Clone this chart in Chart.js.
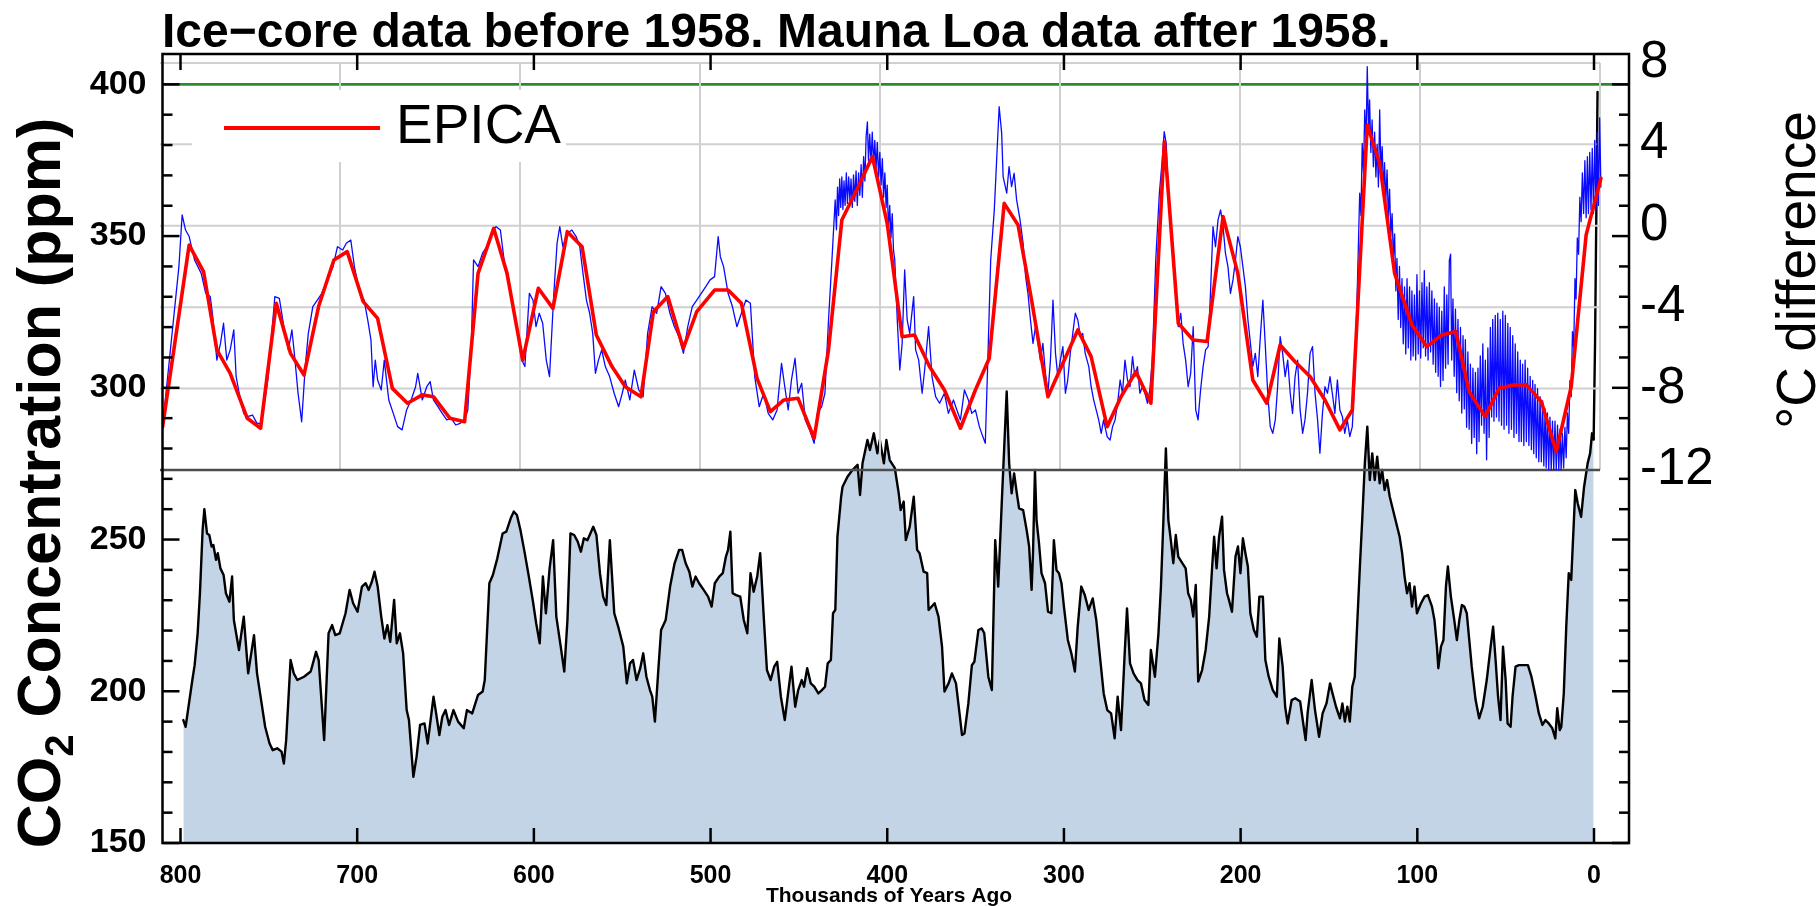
<!DOCTYPE html>
<html>
<head>
<meta charset="utf-8">
<title>Ice-core CO2 and EPICA temperature</title>
<script src="https://cdn.jsdelivr.net/npm/chart.js@4.4.1/dist/chart.umd.min.js"></script>
<style>
  html, body { margin: 0; padding: 0; background: #ffffff; }
  #wrap { width: 1820px; height: 906px; position: relative; }
  canvas { display: block; }
</style>
</head>
<body>
<div id="wrap"><canvas id="chart" width="1820" height="906"></canvas></div>
<script>
// ---------------------------------------------------------------------------
// Data: [thousands of years ago, value]
// ---------------------------------------------------------------------------

// Ice-core CO2 concentration (ppm)
const iceCoreCO2 = [
  [798.4,190.5],[797.1,188.3],[793.3,203.7],[792.0,208.6],[790.3,219.0],[789.0,232.3],[787.5,253.0],[786.5,260.0],
  [785.0,252.0],[783.7,251.5],[782.4,247.7],[781.4,248.2],[779.9,243.3],[778.9,245.5],[777.4,240.5],[775.6,238.3],
  [774.3,232.3],[772.3,229.5],[770.8,237.8],[769.8,223.5],[766.9,213.6],[764.2,224.6],[761.7,205.9],[758.4,218.5],
  [756.7,205.9],[754.1,196.0],[752.1,188.3],[749.6,182.8],[747.8,180.6],[745.3,181.2],[742.8,180.1],[741.5,176.2],
  [740.2,183.9],[737.7,210.3],[735.9,205.9],[733.9,203.7],[730.1,204.8],[726.3,206.5],[723.3,213.0],[721.8,210.3],
  [718.7,183.9],[716.2,219.1],[714.2,221.8],[712.4,218.5],[709.9,219.1],[706.6,225.7],[704.3,233.4],[702.3,229.0],
  [699.8,226.2],[697.3,234.5],[695.2,235.6],[693.5,233.4],[691.7,236.1],[690.2,239.4],[688.4,234.5],[686.4,224.6],
  [684.6,217.4],[682.9,221.8],[681.3,216.3],[679.1,230.1],[677.6,215.8],[675.8,219.1],[674.0,212.5],[672.0,193.8],
  [670.7,190.5],[668.2,171.8],[666.4,178.4],[664.4,188.9],[661.9,189.4],[660.1,182.8],[656.8,198.2],[655.6,193.8],
  [653.5,185.6],[651.8,191.6],[650.0,193.8],[648.0,188.9],[645.5,193.8],[642.9,190.0],[639.7,187.8],[637.9,193.8],
  [634.9,192.7],[631.6,198.8],[629.0,199.9],[627.8,203.7],[625.2,235.6],[623.2,238.3],[620.7,243.8],[617.7,252.0],
  [615.6,252.6],[613.1,257.0],[611.4,259.2],[609.6,258.1],[607.6,253.1],[605.5,246.6],[603.0,238.3],[600.5,229.5],
  [598.7,222.4],[596.7,215.8],[594.9,237.8],[593.2,225.7],[591.1,240.5],[589.1,249.8],[587.3,224.6],[584.8,214.7],
  [582.8,206.5],[581.0,223.5],[579.3,252.0],[577.2,251.5],[575.2,249.3],[573.4,246.0],[571.7,250.4],[569.7,249.8],
  [567.6,252.6],[566.4,254.2],[564.6,251.5],[562.6,238.9],[560.8,231.2],[559.0,228.4],[557.0,249.8],[554.5,225.7],
  [552.0,220.7],[549.4,214.7],[547.4,202.6],[545.6,209.2],[543.9,210.3],[541.9,203.7],[539.8,207.6],[538.1,212.5],
  [536.3,204.8],[534.3,200.4],[533.0,198.2],[531.5,190.0],[529.7,205.9],[528.0,220.2],[525.4,223.5],[522.9,234.5],
  [520.4,242.1],[517.8,246.6],[516.1,246.6],[514.1,242.2],[512.0,239.4],[510.3,234.5],[508.5,237.8],[506.5,235.6],
  [503.9,233.4],[501.4,231.2],[499.4,227.9],[497.6,235.6],[495.1,237.8],[493.1,238.9],[491.3,244.4],[490.1,246.6],
  [488.8,252.6],[487.5,232.3],[485.5,231.7],[483.2,231.2],[481.2,223.5],[479.2,219.1],[477.4,238.9],[475.6,232.8],
  [473.6,237.8],[471.9,245.5],[469.8,223.5],[468.1,207.0],[466.0,203.7],[464.0,208.1],[462.3,209.7],[460.2,198.2],
  [458.0,190.5],[455.9,200.4],[454.2,208.1],[452.1,194.9],[450.4,200.4],[448.4,203.7],[447.1,201.5],[445.3,207.6],
  [443.3,202.6],[441.3,201.5],[439.0,199.3],[437.0,200.4],[435.2,201.5],[433.7,209.2],[431.9,210.3],[430.7,225.7],
  [429.4,226.8],[428.2,250.9],[426.1,264.1],[425.3,267.4],[422.5,270.7],[419.7,272.9],[416.8,274.6],[415.4,264.7],
  [414.0,275.1],[411.2,282.8],[409.8,279.5],[407.6,285.0],[405.6,278.4],[404.2,282.8],[401.9,275.1],[400.5,282.8],
  [398.6,276.2],[395.7,273.5],[393.5,265.2],[392.4,259.7],[390.7,262.5],[389.5,249.8],[387.3,254.2],[385.0,264.1],
  [383.1,246.6],[381.7,245.5],[379.4,239.4],[377.4,238.9],[376.6,226.8],[373.2,229.0],[371.0,224.6],[369.0,214.7],
  [367.6,199.9],[365.3,202.6],[363.4,205.9],[361.1,202.6],[359.1,192.7],[357.7,185.6],[356.3,186.1],[354.1,196.0],
  [352.1,208.6],[350.7,209.7],[348.4,220.2],[346.5,220.7],[345.1,219.1],[342.8,204.8],[340.8,200.4],[338.9,249.8],
  [337.2,234.5],[335.2,262.0],[332.4,298.8],[331.0,275.1],[329.6,265.2],[328.2,271.8],[326.8,265.8],[325.4,260.3],
  [323.1,259.7],[321.1,253.1],[319.7,247.7],[318.3,233.4],[317.5,245.5],[316.4,272.9],[315.5,256.4],[314.1,248.7],
  [312.7,238.9],[310.7,235.6],[309.0,226.2],[307.1,225.7],[305.7,249.8],[304.2,239.9],[302.8,238.9],[301.4,235.6],
  [300.0,227.9],[297.8,216.9],[295.8,212.5],[293.8,206.5],[292.2,221.3],[290.2,234.5],[288.2,231.7],[286.0,226.8],
  [283.7,230.6],[281.7,223.5],[279.8,212.5],[277.5,199.3],[275.5,193.8],[273.3,192.7],[271.3,184.5],[269.6,198.2],
  [267.7,187.2],[265.7,211.4],[264.3,227.3],[262.6,209.2],[260.6,205.9],[258.4,203.7],[256.4,202.6],[254.4,197.1],
  [252.2,195.5],[250.8,213.6],[248.5,204.8],[246.5,219.1],[245.1,234.5],[243.7,256.4],[242.3,280.0],[240.9,256.4],
  [239.5,249.8],[238.1,242.2],[236.7,251.5],[235.3,244.4],[233.0,242.2],[231.1,240.5],[229.7,232.3],[228.2,230.1],
  [226.8,224.6],[225.4,235.0],[224.0,203.2],[221.8,207.0],[219.8,213.6],[217.8,224.6],[216.1,241.1],[215.0,250.9],
  [213.6,240.5],[212.2,250.9],[210.5,257.5],[209.4,240.0],[207.7,232.3],[206.6,230.1],[204.9,226.2],[202.9,244.4],
  [201.5,247.7],[200.1,238.9],[198.7,250.4],[197.3,245.5],[195.9,241.1],[194.5,225.7],[192.5,220.2],[190.8,218.0],
  [189.4,231.2],[187.4,231.2],[186.0,210.3],[184.1,204.8],[181.8,200.4],[179.5,198.2],[178.1,217.4],[176.2,208.1],
  [174.8,194.9],[173.4,189.4],[171.1,197.1],[169.1,197.7],[166.3,196.6],[164.3,188.3],[163.2,183.9],[162.1,192.7],
  [159.8,203.7],[157.9,193.8],[155.6,185.0],[153.6,192.7],[151.4,196.0],[149.4,202.6],[148.0,199.3],[146.0,194.9],
  [143.8,191.1],[142.4,196.0],[141.0,190.0],[139.6,194.9],[138.2,190.0],[136.8,201.5],[135.4,204.8],[134.0,222.4],
  [132.5,241.1],[131.1,257.5],[129.7,275.1],[128.3,287.2],[126.9,269.6],[125.5,278.4],[124.1,269.6],[122.7,277.3],
  [121.3,268.5],[119.9,272.9],[118.5,266.3],[117.1,269.6],[115.6,264.1],[114.2,260.8],[112.8,257.5],[111.4,254.2],
  [110.0,250.9],[108.6,245.5],[107.2,237.8],[105.8,232.3],[104.4,235.6],[103.0,227.9],[101.6,234.5],[100.2,225.7],
  [97.9,229.0],[95.9,231.2],[94.0,231.7],[91.7,227.9],[90.3,223.5],[88.9,214.7],[88.1,207.6],[86.6,214.7],
  [85.2,216.9],[83.8,234.5],[82.7,241.1],[81.0,231.2],[79.1,223.5],[77.6,216.9],[76.2,223.5],[74.8,228.4],
  [73.4,227.9],[72.0,225.7],[70.6,216.9],[69.2,208.1],[67.0,197.1],[65.0,191.1],[63.0,194.9],[60.7,203.7],
  [58.5,214.7],[57.1,221.3],[55.7,210.3],[54.3,198.2],[52.9,190.5],[51.5,214.7],[50.0,203.7],[48.9,189.4],
  [47.2,188.3],[46.1,198.2],[44.4,208.1],[42.5,208.6],[39.6,208.6],[37.4,208.6],[35.4,204.8],[33.4,199.3],
  [31.2,192.7],[29.2,188.9],[27.5,190.5],[25.6,189.4],[23.6,187.8],[21.9,184.5],[20.8,194.4],[19.4,187.2],
  [18.5,188.3],[17.1,199.3],[15.7,221.3],[14.3,238.9],[12.9,236.7],[10.6,266.3],[9.2,261.9],[7.3,257.5],
  [5.6,267.4],[3.6,275.1],[2.2,278.4],[1.1,285.0],[0.2,283.0]
];

// Mauna Loa CO2 (ppm), 1958 onwards
const maunaLoaCO2 = [[0.2,283.0],[-0.6,315.0],[-2.0,397.5]];

// 400 ppm reference level
const level400 = [[810.2,400],[-19.8,400]];

// EPICA temperature difference (deg C), smoothed
const epicaSmooth = [
  [798.6,-9.9],[783.8,-0.95],[775.8,-2.25],[768.4,-6.10],[761.0,-7.25],[751.5,-9.46],[744.1,-9.95],[735.4,-3.81],
  [727.5,-6.27],[720.0,-7.33],[711.9,-3.97],[703.4,-1.68],[696.0,-1.27],[687.1,-3.73],[679.1,-4.55],[670.9,-7.99],
  [662.5,-8.72],[654.3,-8.31],[648.1,-8.40],[638.9,-9.46],[630.8,-9.63],[623.3,-2.34],[614.6,-0.13],[607.2,-2.34],
  [598.5,-6.60],[589.8,-3.07],[581.7,-4.06],[573.7,-0.29],[565.5,-1.03],[557.6,-5.37],[548.9,-6.92],[541.5,-7.91],
  [532.8,-8.40],[525.9,-4.22],[517.9,-3.48],[509.3,-6.02],[501.8,-4.22],[491.9,-3.16],[484.4,-3.16],[477.0,-3.81],
  [468.3,-7.50],[460.9,-9.13],[453.4,-8.56],[445.5,-8.48],[436.6,-10.44],[428.6,-6.10],[421.2,0.28],[412.5,1.84],
  [404.2,3.40],[396.0,0.12],[387.7,-5.45],[380.8,-5.37],[372.5,-6.92],[364.2,-8.07],[355.3,-9.95],[347.0,-8.07],
  [339.3,-6.51],[331.0,1.10],[323.3,0.04],[315.8,-3.65],[306.7,-8.40],[298.4,-6.76],[290.1,-5.12],[282.7,-6.43],
  [273.8,-9.87],[266.1,-8.40],[257.8,-7.17],[249.5,-8.72],[242.0,4.13],[234.3,-4.79],[226.0,-5.61],[218.3,-5.69],
  [209.4,0.45],[201.2,-2.34],[192.9,-7.58],[185.1,-8.72],[177.7,-5.86],[169.4,-6.68],[161.1,-7.41],[152.8,-8.56],
  [144.5,-10.03],[137.6,-9.05],[129.3,4.95],[122.4,3.07],[114.1,-2.34],[104.5,-4.87],[96.2,-5.94],[87.9,-5.37],
  [80.1,-5.20],[72.7,-8.15],[63.8,-9.38],[56.1,-7.99],[47.8,-7.82],[40.9,-7.82],[32.6,-8.64],[24.3,-11.10],
  [16.0,-7.91],[7.7,-0.45],[-0.5,2.33]
];

// Temperature difference (deg C), full resolution
const tempRecord = [
  [798.6,-9.9],[789.5,-2.01],[787.7,0.53],[785.8,-0.21],[783.8,-0.53],[780.8,-1.68],[777.1,-2.34],[774.6,-3.32],
  [772.1,-3.48],[770.9,-4.30],[768.4,-6.60],[766.4,-5.78],[764.7,-4.79],[762.9,-6.60],[761.0,-6.10],[759.0,-5.12],
  [757.7,-7.41],[756.0,-8.23],[753.5,-9.22],[751.5,-9.38],[748.6,-9.30],[746.1,-9.71],[743.6,-9.71],[739.9,-7.41],
  [736.2,-3.48],[733.7,-3.57],[731.2,-4.96],[728.7,-6.10],[726.7,-5.12],[725.0,-6.60],[723.3,-8.23],[721.3,-9.63],
  [719.3,-6.92],[717.6,-5.29],[715.1,-3.97],[712.6,-3.65],[710.1,-3.32],[706.9,-2.66],[703.9,-2.01],[701.4,-1.03],
  [698.5,-1.19],[696.5,-0.86],[694.0,-0.70],[692.0,-2.01],[689.0,-3.32],[686.6,-3.65],[684.6,-4.63],[682.8,-5.61],
  [681.6,-7.91],[680.4,-6.60],[679.1,-7.58],[677.1,-8.07],[675.4,-6.60],[672.9,-8.56],[670.4,-9.22],[668.0,-9.87],
  [665.5,-10.03],[663.0,-9.05],[660.5,-8.56],[658.0,-7.91],[656.8,-7.25],[654.3,-8.56],[651.8,-7.91],[649.9,-7.66],
  [648.1,-8.56],[645.6,-8.89],[643.2,-9.22],[640.7,-9.54],[638.2,-9.46],[635.7,-9.79],[633.2,-9.71],[630.8,-9.54],
  [629.0,-9.05],[627.0,-5.78],[625.8,-1.68],[623.3,-2.01],[620.8,-1.35],[618.4,-1.03],[615.9,-0.37],[613.4,-0.04],
  [610.9,-0.21],[608.4,-2.01],[606.0,-2.99],[603.5,-4.14],[601.0,-5.45],[599.0,-6.60],[597.3,-6.92],[594.8,-3.32],
  [592.8,-3.65],[591.1,-4.96],[589.3,-4.30],[587.4,-4.79],[585.4,-6.60],[583.6,-7.41],[581.2,-3.32],[579.4,-0.86],
  [577.9,-0.04],[576.2,-1.03],[573.7,-0.37],[571.2,-0.21],[568.8,-0.53],[566.8,-1.03],[565.0,-2.34],[563.1,-3.65],
  [561.3,-4.30],[559.6,-5.29],[558.1,-7.25],[556.4,-6.60],[554.6,-6.10],[552.6,-6.92],[550.2,-7.41],[547.7,-8.23],
  [545.2,-8.89],[543.2,-8.23],[541.5,-7.58],[539.0,-8.56],[536.5,-7.09],[534.0,-8.07],[531.6,-8.40],[529.1,-5.29],
  [526.6,-3.97],[524.1,-4.30],[521.6,-2.99],[519.2,-3.32],[516.7,-4.30],[514.2,-4.96],[511.7,-5.45],[509.2,-6.27],
  [506.8,-4.96],[504.3,-3.97],[501.8,-3.65],[499.3,-3.32],[496.8,-2.99],[494.4,-2.66],[491.9,-2.50],[489.9,-0.53],
  [488.7,-1.52],[486.9,-2.01],[484.4,-3.32],[482.0,-3.97],[479.5,-4.96],[477.0,-4.30],[474.5,-3.65],[472.0,-3.81],
  [469.6,-7.41],[467.1,-8.89],[464.6,-8.23],[462.1,-9.22],[459.6,-9.54],[457.2,-9.05],[454.7,-6.76],[452.9,-7.91],
  [451.0,-9.05],[449.2,-7.58],[447.2,-6.51],[445.5,-8.23],[443.5,-7.74],[441.5,-9.54],[439.1,-10.03],[436.6,-10.69],
  [434.8,-9.22],[432.4,-8.89],[430.6,-8.23],[428.6,-4.63],[426.7,-1.68],[424.9,1.27],[424.2,-0.2],[423.6,1.9],
  [423.0,0.5],[422.4,2.3],[421.8,0.9],[421.2,2.4],[420.6,0.8],[420.0,2.2],[419.4,1.0],[418.7,2.6],
  [418.1,1.1],[417.4,2.4],[416.7,1.2],[416.1,2.3],[415.4,0.9],[414.7,2.5],[414.0,1.2],[413.3,2.7],
  [412.6,1.0],[411.9,2.6],[411.2,1.5],[410.5,3.0],[409.8,1.4],[409.1,3.4],[408.4,2.2],[407.7,4.4],
  [407.0,5.1],[406.4,3.2],[405.7,4.5],[405.0,3.1],[404.3,4.6],[403.6,3.0],[402.9,4.2],[402.2,2.8],
  [401.5,4.1],[400.8,2.4],[400.1,3.6],[399.4,2.0],[398.7,3.3],[398.0,1.4],[397.3,2.6],[396.6,0.9],
  [396.0,2.0],[395.3,-0.2],[394.6,1.0],[393.9,-0.6],[393.2,0.6],[392.5,-1.2],[391.8,-1.68],[390.4,-4.63],
  [389.0,-7.09],[387.7,-5.78],[386.3,-2.17],[384.9,-4.63],[383.5,-5.29],[381.3,-3.48],[380.2,-6.10],[378.5,-6.60],
  [376.6,-8.23],[375.2,-7.09],[373.0,-4.96],[371.1,-7.41],[369.1,-8.40],[366.9,-8.72],[364.2,-8.23],[362.0,-9.22],
  [359.2,-8.56],[357.3,-9.05],[355.3,-9.54],[353.1,-8.07],[350.9,-8.56],[349.0,-9.22],[347.0,-9.05],[344.8,-9.87],
  [342.9,-10.36],[341.5,-10.69],[340.1,-6.60],[338.5,-1.68],[336.5,0.78],[335.2,3.23],[333.8,5.85],[332.4,4.54],
  [331.6,2.41],[329.6,1.60],[328.3,2.91],[326.9,1.92],[325.5,2.58],[324.1,1.27],[322.2,0.29],[320.5,-0.86],
  [319.1,-2.50],[317.8,-3.32],[316.4,-4.63],[315.0,-5.78],[313.6,-4.96],[312.2,-5.78],[310.9,-6.60],[309.5,-5.78],
  [308.1,-7.25],[306.7,-8.23],[305.3,-6.60],[303.9,-3.65],[302.5,-6.27],[301.2,-7.41],[299.8,-6.60],[298.4,-5.94],
  [297.0,-8.23],[295.7,-7.58],[294.3,-6.27],[292.9,-5.29],[291.5,-4.30],[290.1,-4.63],[288.7,-5.45],[287.4,-5.29],
  [286.0,-6.27],[284.0,-6.92],[282.7,-7.91],[281.3,-8.56],[279.9,-9.05],[278.5,-9.54],[277.1,-10.20],[275.8,-9.54],
  [273.8,-10.36],[272.2,-10.53],[270.8,-9.87],[269.4,-9.54],[268.0,-8.72],[266.6,-7.58],[265.3,-8.23],[263.9,-6.60],
  [262.5,-7.58],[261.1,-7.91],[259.7,-6.43],[258.4,-7.41],[257.0,-6.92],[255.6,-8.23],[254.2,-7.91],[252.8,-8.23],
  [251.4,-8.72],[250.1,-8.07],[248.7,-6.60],[246.8,-1.68],[244.8,1.60],[243.2,3.23],[242.1,4.63],[241.0,4.05],
  [239.8,1.60],[238.5,-0.04],[237.1,-1.68],[235.7,-3.32],[234.3,-4.96],[232.9,-4.30],[231.6,-5.78],[230.2,-6.60],
  [228.8,-7.91],[227.4,-7.25],[226.0,-4.96],[224.6,-9.05],[223.3,-9.54],[221.9,-8.07],[220.5,-6.92],[219.1,-6.10],
  [217.7,-5.94],[216.4,-3.32],[215.0,-0.04],[213.6,-1.03],[212.2,0.29],[210.8,0.78],[209.4,-0.04],[208.1,-1.35],
  [206.7,-2.01],[205.3,-3.32],[203.9,-2.66],[202.5,-1.68],[201.2,-0.53],[199.8,-1.03],[198.4,-2.01],[197.0,-2.99],
  [195.6,-4.63],[194.2,-5.78],[192.9,-6.92],[191.5,-6.27],[190.1,-7.41],[188.7,-5.45],[187.3,-3.65],[186.0,-5.78],
  [184.6,-8.23],[183.2,-9.87],[181.8,-10.20],[180.4,-9.54],[179.1,-7.91],[177.7,-5.45],[176.3,-6.27],[174.9,-7.41],
  [173.5,-6.60],[172.1,-8.23],[170.8,-9.22],[169.4,-7.41],[168.0,-6.60],[166.6,-9.05],[165.2,-10.20],[163.9,-9.54],
  [162.5,-8.23],[161.1,-6.27],[159.7,-5.94],[158.3,-8.23],[156.9,-9.54],[155.6,-11.18],[154.2,-9.22],[152.8,-7.91],
  [151.4,-8.23],[150.0,-7.41],[148.7,-8.23],[147.3,-9.22],[145.9,-7.58],[144.5,-9.05],[143.1,-9.38],[141.8,-10.20],
  [140.4,-9.54],[139.0,-10.36],[137.6,-9.87],[136.2,-7.41],[134.9,-3.32],[133.5,1.60],[132.8,0.5],[132.1,4.05],
  [131.4,2.6],[130.7,5.69],[130.0,3.9],[129.3,7.82],[128.6,4.6],[128.0,6.18],[127.3,3.6],[126.6,5.2],
  [125.9,2.9],[125.2,4.6],[124.5,2.4],[123.8,4.0],[123.1,1.9],[122.4,5.69],[121.7,2.6],[121.0,3.89],
  [120.3,1.5],[119.7,3.1],[119.0,1.2],[118.3,2.74],[117.6,0.4],[116.9,1.8],[116.2,-0.5],[115.5,0.6],
  [114.8,-1.6],[114.1,-0.4],[113.4,-3.2],[112.8,-1.6],[112.1,-4.6],[111.4,-2.0],[110.7,-5.0],[110.0,-2.6],
  [109.3,-5.8],[108.6,-3.0],[107.9,-6.3],[107.2,-2.6],[106.5,-6.0],[105.8,-3.0],[105.1,-6.6],[104.5,-3.2],
  [103.8,-6.4],[103.1,-3.4],[102.4,-6.6],[101.7,-2.4],[101.0,-6.3],[100.3,-3.2],[99.6,-6.5],[98.9,-2.8],
  [98.2,-6.0],[97.6,-2.2],[96.9,-6.4],[96.2,-3.0],[95.5,-6.6],[94.8,-2.8],[94.1,-6.2],[93.4,-3.2],
  [92.7,-6.8],[92.0,-3.6],[91.3,-7.2],[90.6,-3.8],[89.9,-7.4],[89.3,-4.0],[88.6,-7.9],[87.9,-4.2],
  [87.2,-7.6],[86.5,-3.0],[85.8,-7.0],[85.1,-3.4],[84.4,-6.8],[83.7,-1.7],[83.0,-1.4],[82.4,-6.6],
  [81.7,-3.6],[81.0,-7.4],[80.3,-4.1],[79.6,-8.2],[78.9,-4.6],[78.2,-8.6],[77.5,-5.0],[76.8,-9.2],
  [76.1,-5.4],[75.4,-9.0],[74.8,-5.6],[74.1,-9.9],[73.4,-6.2],[72.7,-10.0],[72.0,-6.8],[71.3,-10.7],
  [70.6,-7.0],[69.9,-10.4],[69.2,-7.2],[68.5,-11.2],[67.8,-7.0],[67.2,-10.6],[66.5,-6.4],[65.8,-9.8],
  [65.1,-5.8],[64.4,-10.2],[63.7,-6.6],[63.0,-11.5],[62.3,-6.0],[61.6,-10.4],[60.9,-5.0],[60.2,-9.4],
  [59.6,-4.6],[58.9,-9.6],[58.2,-4.4],[57.5,-9.4],[56.8,-4.3],[56.1,-9.6],[55.4,-4.6],[54.7,-9.8],
  [54.0,-4.2],[53.3,-10.0],[52.6,-4.4],[51.9,-9.8],[51.2,-4.8],[50.6,-10.2],[49.9,-5.0],[49.2,-10.0],
  [48.5,-5.4],[47.8,-10.4],[47.1,-5.8],[46.4,-10.2],[45.7,-6.2],[45.0,-10.6],[44.3,-6.6],[43.7,-10.6],
  [43.0,-6.8],[42.3,-10.8],[41.6,-6.6],[40.9,-10.6],[40.2,-7.0],[39.5,-10.8],[38.8,-7.4],[38.1,-11.0],
  [37.4,-7.6],[36.8,-11.2],[36.1,-7.8],[35.4,-11.4],[34.7,-8.0],[34.0,-11.6],[33.3,-8.4],[32.6,-11.6],
  [31.9,-8.6],[31.2,-11.8],[30.5,-9.0],[29.9,-11.9],[29.2,-9.2],[28.5,-12.0],[27.8,-9.4],[27.1,-12.0],
  [26.4,-9.6],[25.7,-12.0],[25.0,-9.6],[24.3,-12.0],[23.6,-9.8],[22.9,-12.0],[22.2,-10.0],[21.6,-12.0],
  [20.9,-10.2],[20.2,-11.9],[19.5,-9.9],[18.8,-11.4],[18.1,-9.2],[17.4,-10.2],[16.7,-7.6],[16.0,-8.4],
  [15.3,-5.2],[14.6,-6.0],[13.9,-2.6],[13.3,-3.6],[12.6,-0.6],[11.9,-1.4],[11.2,1.4],[10.5,0.2],
  [9.8,2.6],[9.1,0.6],[8.4,3.2],[7.7,0.4],[7.0,3.4],[6.4,0.6],[5.7,3.6],[5.0,0.8],
  [4.3,3.8],[3.6,0.6],[2.9,4.2],[2.2,0.8],[1.5,4.6],[0.9,1.0],[0.2,5.3],[-0.5,1.9]
];

// Axis ticks
const kyrTicks = [800, 700, 600, 500, 400, 300, 200, 100, 0];
const ppmTicks = [150, 200, 250, 300, 350, 400];
const ppmTickMarks = [150,160,170,180,190,200,210,220,230,240,250,260,270,280,290,300,
                      310,320,330,340,350,360,370,380,390,400];
const tempTicks = [-12, -8, -4, 0, 4, 8];
// Temperature panel grid
const panelKyrGrid = [700, 600, 500, 400, 300, 200, 100, 0];
const panelTempGrid = [8, 4, 0, -4, -8];

// ---------------------------------------------------------------------------
const FONT = "'Liberation Sans', Arial, Helvetica, sans-serif";
const toPoints = rows => rows.map(([x, y]) => ({ x, y }));

function strokeLine(ctx, x1, y1, x2, y2) {
  ctx.beginPath();
  ctx.moveTo(x1, y1);
  ctx.lineTo(x2, y2);
  ctx.stroke();
}

const TEMP_INDEX = 3;

// White page background
const pageBackground = {
  id: 'pageBackground',
  beforeDraw(chart) {
    const { ctx } = chart;
    ctx.save();
    ctx.fillStyle = '#ffffff';
    ctx.fillRect(0, 0, chart.width, chart.height);
    ctx.restore();
  }
};

// Grid and base line of the temperature panel, drawn just beneath its curves
const temperaturePanel = {
  id: 'temperaturePanel',
  beforeDatasetDraw(chart, args) {
    if (args.index !== TEMP_INDEX) return;
    const { ctx } = chart;
    const xs = chart.scales.xT, ys = chart.scales.yT;
    const x0 = xs.getPixelForValue(800), x1 = xs.getPixelForValue(0);
    const yTop = ys.getPixelForValue(8), yBot = ys.getPixelForValue(-12);
    ctx.save();
    ctx.strokeStyle = '#d0d0d0';
    ctx.lineWidth = 2;
    panelTempGrid.forEach(t => {
      const y = ys.getPixelForValue(t);
      strokeLine(ctx, x0, y, x1, y);
    });
    panelKyrGrid.forEach(k => {
      const x = xs.getPixelForValue(k);
      strokeLine(ctx, x, yTop, x, yBot);
    });
    ctx.strokeStyle = '#4d4d4d';
    ctx.lineWidth = 2.5;
    strokeLine(ctx, x0, yBot, x1, yBot);
    ctx.restore();
  }
};

// Legend for the smoothed EPICA curve
const epicaLegend = {
  id: 'epicaLegend',
  afterDatasetsDraw(chart) {
    const { ctx, chartArea: a } = chart;
    ctx.save();
    ctx.fillStyle = '#ffffff';
    ctx.fillRect(a.left + 29.5, a.top + 36, 374, 72);
    ctx.strokeStyle = '#ff0000';
    ctx.lineWidth = 4;
    strokeLine(ctx, a.left + 61.5, a.top + 74, a.left + 217.5, a.top + 74);
    ctx.fillStyle = '#000000';
    ctx.font = `55px ${FONT}`;
    ctx.textAlign = 'left';
    ctx.textBaseline = 'middle';
    ctx.fillText('EPICA', a.left + 233.5, a.top + 74);
    ctx.restore();
  }
};

// Plot frame with inward tick marks on all four sides
const frameTicks = {
  id: 'frameTicks',
  afterDatasetsDraw(chart) {
    const { ctx, chartArea: a } = chart;
    const xs = chart.scales.x, ys = chart.scales.y;
    ctx.save();
    ctx.strokeStyle = '#000000';
    ctx.lineWidth = 2.5;
    ctx.lineCap = 'butt';
    ppmTickMarks.forEach(v => {
      const y = ys.getPixelForValue(v);
      const len = ppmTicks.includes(v) ? 17 : 10;
      strokeLine(ctx, a.left, y, a.left + len, y);
      strokeLine(ctx, a.right, y, a.right - len, y);
    });
    kyrTicks.forEach(k => {
      const x = xs.getPixelForValue(k);
      strokeLine(ctx, x, a.bottom, x, a.bottom - 15);
      strokeLine(ctx, x, a.top, x, a.top + 16);
    });
    ctx.lineJoin = 'miter';
    ctx.strokeRect(a.left, a.top, a.right - a.left, a.bottom - a.top);
    ctx.restore();
  }
};

// Chart title and axis titles
const titles = {
  id: 'titles',
  afterDraw(chart) {
    const { ctx, chartArea: a } = chart;
    ctx.save();
    ctx.fillStyle = '#000000';

    ctx.font = `bold 48px ${FONT}`;
    ctx.textAlign = 'left';
    ctx.textBaseline = 'alphabetic';
    ctx.fillText('Ice\u2212core data before 1958. Mauna Loa data after 1958.', a.left - 0.5, 47);

    ctx.font = `bold 21px ${FONT}`;
    ctx.textAlign = 'center';
    ctx.textBaseline = 'middle';
    ctx.fillText('Thousands of Years Ago', 889, 896);

    // CO2 title with subscript, reading upwards
    ctx.save();
    ctx.translate(60, 483);
    ctx.rotate(-Math.PI / 2);
    const big = `bold 61px ${FONT}`, small = `bold 40px ${FONT}`;
    ctx.font = big;
    const wCO = ctx.measureText('CO').width;
    const wRest = ctx.measureText(' Concentration (ppm)').width;
    ctx.font = small;
    const w2 = ctx.measureText('2').width;
    let x = -(wCO + w2 + wRest) / 2;
    ctx.textAlign = 'left';
    ctx.textBaseline = 'alphabetic';
    ctx.font = big;   ctx.fillText('CO', x, 0); x += wCO;
    ctx.font = small; ctx.fillText('2', x, 13); x += w2;
    ctx.font = big;   ctx.fillText(' Concentration (ppm)', x, 0);
    ctx.restore();

    // Temperature title, reading upwards
    ctx.save();
    ctx.translate(1815, 270);
    ctx.rotate(-Math.PI / 2);
    ctx.font = `55px ${FONT}`;
    ctx.textAlign = 'center';
    ctx.textBaseline = 'alphabetic';
    ctx.fillText('\u00B0C difference', 0, 0);
    ctx.restore();

    ctx.restore();
  }
};

const setTicks = values => scale => { scale.ticks = values.map(v => ({ value: v })); };

new Chart(document.getElementById('chart'), {
  type: 'line',
  data: {
    datasets: [
      {
        label: 'CO2 (ice core)',
        data: toPoints(iceCoreCO2),
        xAxisID: 'x', yAxisID: 'y',
        borderColor: '#000000', borderWidth: 2.4,
        backgroundColor: '#c3d4e7', fill: 'start',
        order: 6
      },
      {
        label: 'CO2 (Mauna Loa)',
        data: toPoints(maunaLoaCO2),
        xAxisID: 'x', yAxisID: 'y',
        borderColor: '#000000', borderWidth: 2.4, fill: false,
        order: 5
      },
      {
        label: '400 ppm',
        data: toPoints(level400),
        xAxisID: 'x', yAxisID: 'y',
        borderColor: '#2c8c2c', borderWidth: 2.6, fill: false,
        order: 4
      },
      {
        label: 'Temperature',
        data: toPoints(tempRecord),
        xAxisID: 'xT', yAxisID: 'yT',
        borderColor: '#0a0aff', borderWidth: 1.3, fill: false,
        order: 3
      },
      {
        label: 'EPICA',
        data: toPoints(epicaSmooth),
        xAxisID: 'xT', yAxisID: 'yT',
        borderColor: '#ff0000', borderWidth: 3.6, fill: false,
        order: 2
      }
    ]
  },
  options: {
    responsive: false,
    animation: false,
    devicePixelRatio: 1,
    layout: { padding: { top: 54, left: 0, right: 0, bottom: 0 } },
    elements: {
      point: { radius: 0 },
      line: { tension: 0, borderJoinStyle: 'round', borderCapStyle: 'round' }
    },
    plugins: {
      legend: { display: false },
      title: { display: false },
      tooltip: { enabled: false }
    },
    scales: {
      x: {
        type: 'linear', position: 'bottom', reverse: true,
        min: -19.81, max: 810.19,
        afterBuildTicks: setTicks(kyrTicks),
        afterFit: s => { s.height = 63; },
        grid: { display: false }, border: { display: false },
        ticks: {
          autoSkip: false, maxRotation: 0, minRotation: 0, padding: 10, color: '#000000',
          font: { family: FONT, size: 25, weight: 'bold' }
        }
      },
      xT: {
        type: 'linear', display: false, reverse: true,
        min: -16.11, max: 798.61
      },
      y: {
        type: 'linear', position: 'left',
        min: 150, max: 410,
        afterBuildTicks: setTicks(ppmTicks),
        afterFit: s => { s.width = 162.5; },
        grid: { display: false }, border: { display: false },
        ticks: {
          autoSkip: false, padding: 8, color: '#000000',
          font: { family: FONT, size: 34, weight: 'bold' }
        }
      },
      yT: {
        type: 'linear', position: 'right',
        min: -30.33, max: 8.44,
        afterBuildTicks: setTicks(tempTicks),
        afterFit: s => { s.width = 191; },
        grid: { display: false }, border: { display: false },
        ticks: {
          autoSkip: false, padding: 3, color: '#000000',
          font: { family: FONT, size: 51, weight: 'normal' }
        }
      }
    }
  },
  plugins: [pageBackground, temperaturePanel, epicaLegend, frameTicks, titles]
});
</script>
</body>
</html>
